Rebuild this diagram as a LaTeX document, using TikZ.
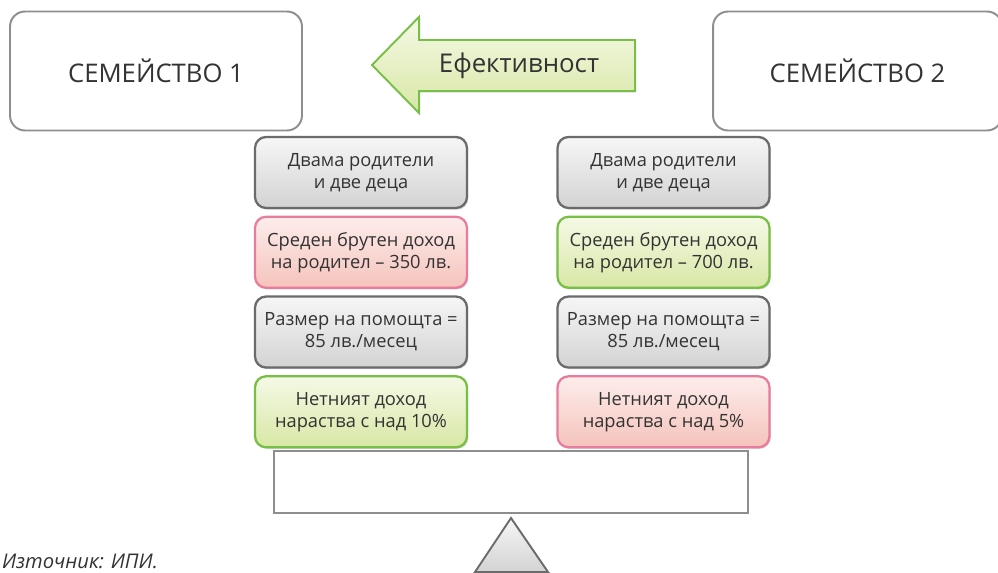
\documentclass[tikz,border=0pt]{standalone}
\usepackage{fontspec}
\setmainfont{Open Sans}
\usepackage{tikz}
\usetikzlibrary{positioning,shadows}
\usepackage{xcolor}

\definecolor{txt}{HTML}{333333}
\definecolor{famline}{HTML}{8E8E8E}
\definecolor{greyline}{HTML}{6B6B6B}
\definecolor{greytop}{HTML}{F6F6F6}
\definecolor{greybot}{HTML}{D3D3D3}
\definecolor{redline}{HTML}{E97C9C}
\definecolor{redtop}{HTML}{FDEDEB}
\definecolor{redbot}{HTML}{F5C3BC}
\definecolor{greenline}{HTML}{78BF46}
\definecolor{greentop}{HTML}{F5F9E6}
\definecolor{greenbot}{HTML}{D8E7A5}

\begin{document}
\begin{tikzpicture}[x=0.02cm, y=-0.02cm, node distance=0.13cm,
    famblock/.style={draw=famline, line width=1.1pt, rounded corners=0.3cm, fill=white,
        minimum width=5.84cm, minimum height=2.38cm, text=txt, font=\fontsize{14.6}{18}\selectfont},
    block/.style={rounded corners=0.22cm, line width=1.3pt, minimum width=4.24cm,
        minimum height=1.42cm, align=center, text=txt, font=\fontsize{10.4}{12.5}\selectfont,
        drop shadow={shadow xshift=0.7pt, shadow yshift=-0.9pt, opacity=0.35}},
    greyblock/.style={block, draw=greyline, top color=greytop, bottom color=greybot},
    redblock/.style={block, draw=redline, top color=redtop, bottom color=redbot},
    greenblock/.style={block, draw=greenline, top color=greentop, bottom color=greenbot}]

    \useasboundingbox (0,0) rectangle (998,573);
    \clip (0,0) rectangle (998,573);

    % Семействата
    \node [famblock] (fam1) at (156,71) {СЕМЕЙСТВО 1};
    \node [famblock, minimum width=5.78cm] (fam2) at (857.5,71) {СЕМЕЙСТВО 2};

    % Стрелката
    \draw [greenline, line width=1.1pt, top color=greentop, bottom color=greenbot,
        drop shadow={shadow xshift=0.8pt, shadow yshift=-1pt, opacity=0.3}]
        (635,40) -- (419,40) -- (419,17) -- (372,65) -- (419,113) -- (419,91) -- (635,91) -- cycle;
    \node [text=txt, font=\fontsize{14.7}{18}\selectfont] (eff) at (519,66) {Ефективност};

    % Лява колона
    \node [greyblock] (l1) at (361,172.5) {Двама родители\\и две деца};
    \node [redblock, below=of l1] (l2) {Среден брутен доход\\на родител – 350 лв.};
    \node [greyblock, below=of l2] (l3) {Размер на помощта =\\85 лв./месец};
    \node [greenblock, below=of l3] (l4) {Нетният доход\\нараства с над 10\%};

    % Дясна колона
    \node [greyblock] (r1) at (663.5,172.5) {Двама родители\\и две деца};
    \node [greenblock, below=of r1] (r2) {Среден брутен доход\\на родител – 700 лв.};
    \node [greyblock, below=of r2] (r3) {Размер на помощта =\\85 лв./месец};
    \node [redblock, below=of r3] (r4) {Нетният доход\\нараства с над 5\%};

    % Везната
    \node [draw=famline, line width=1.1pt, fill=white, minimum width=9.48cm, minimum height=1.24cm] (beam) at (511,482) {};
    \draw [greyline, line width=1.1pt, top color=greytop, bottom color=greybot,
        drop shadow={shadow xshift=0.8pt, shadow yshift=-1pt, opacity=0.3}]
        (511,518) -- (548,572) -- (475,572) -- cycle;

    \node [anchor=west, text=txt, inner sep=1pt, font=\fontsize{11.5}{13}\selectfont\itshape] (src) at (0,561) {Източник: ИПИ.};

\end{tikzpicture}
\end{document}
